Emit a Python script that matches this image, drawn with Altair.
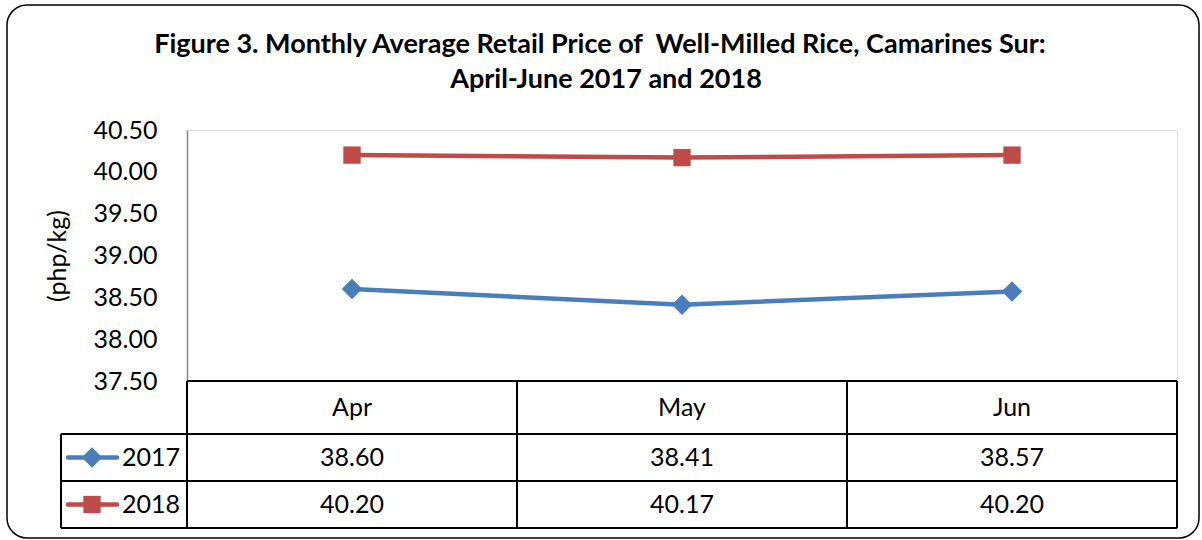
import altair as alt
import pandas as pd

months = ["Apr", "May", "Jun"]
years = ["2017", "2018"]
price_2017 = [38.60, 38.41, 38.57]
price_2018 = [40.20, 40.17, 40.20]
y_ticks = [37.5, 38.0, 38.5, 39.0, 39.5, 40.0, 40.5]
title_lines = ["Figure 3. Monthly Average Retail Price of\u00a0 Well-Milled Rice, Camarines Sur:",
               "April-June 2017 and 2018"]
y_title = "(php/kg)"

BLUE = "#4A7EBB"
RED = "#BE4B48"
FONT = "Lato"
FS = 25

rows = []
for y, vals in zip(years, [price_2017, price_2018]):
    for m, v in zip(months, vals):
        rows.append({"month": m, "year": y, "price": v, "label": f"{v:.2f}"})
df = pd.DataFrame(rows)
mdf = pd.DataFrame({"month": months})
one = pd.DataFrame({"k": [0]})
legend_df = pd.DataFrame({"year": years})

xenc = alt.X("month:N", scale=alt.Scale(type="point", domain=months, padding=0.5), axis=None)
yenc = alt.Y("price:Q",
             scale=alt.Scale(domain=[37.5, 40.5], range=[251, 0], nice=False, zero=False),
             axis=alt.Axis(values=y_ticks, format=".2f", grid=False, ticks=False, tickSize=0,
                           labelPadding=30, labelFont=FONT, labelFontSize=FS, labelColor="black",
                           domainColor="#868686", domainWidth=1.5,
                           title=y_title, titleFont=FONT, titleFontSize=FS, titleFontWeight="normal",
                           titleColor="black", titleAngle=270, titleX=-130, titleY=125.5,
                           titleAlign="center", titleBaseline="middle"))
color = alt.Color("year:N", scale=alt.Scale(domain=years, range=[BLUE, RED]), legend=None)
shape = alt.Shape("year:N", scale=alt.Scale(domain=years, range=["diamond", "square"]), legend=None)
size = alt.Size("year:N", scale=alt.Scale(domain=years, range=[420, 300]), legend=None)

base = alt.Chart(df)
lines = base.mark_line(strokeWidth=4.5).encode(x=xenc, y=yenc, color=color)
points = base.mark_point(filled=True, opacity=1).encode(x=xenc, y=yenc, color=color, shape=shape, size=size)

header = alt.Chart(mdf).mark_text(font=FONT, fontSize=FS, color="black", baseline="middle").encode(
    x=alt.X("month:N", scale=alt.Scale(type="point", domain=months, padding=0.5), axis=None),
    y=alt.value(277.5), text="month:N")
row17 = base.mark_text(font=FONT, fontSize=FS, color="black", baseline="middle").encode(
    x=xenc, y=alt.value(327.5), text="label:N").transform_filter(alt.datum.year == "2017")
row18 = base.mark_text(font=FONT, fontSize=FS, color="black", baseline="middle").encode(
    x=xenc, y=alt.value(374.5), text="label:N").transform_filter(alt.datum.year == "2018")

def hline(y, x1, x2):
    return alt.Chart(one).mark_rule(color="black", strokeWidth=2).encode(
        y=alt.value(y), x=alt.value(x1), x2=alt.value(x2))

def vline(x, y1, y2):
    return alt.Chart(one).mark_rule(color="black", strokeWidth=2).encode(
        x=alt.value(x), y=alt.value(y1), y2=alt.value(y2))

grid = [hline(251, 0, 990), hline(304, -126, 990), hline(351, -126, 990), hline(398, -126, 990),
        vline(-126, 304, 398), vline(0, 251, 398), vline(330, 251, 398), vline(660, 251, 398),
        vline(990, 251, 398)]

leg_line17 = alt.Chart(legend_df).mark_rule(strokeWidth=4.5, strokeCap="round").encode(
    x=alt.value(-119), x2=alt.value(-70), y=alt.value(327.5), color=color).transform_filter(alt.datum.year == "2017")
leg_line18 = alt.Chart(legend_df).mark_rule(strokeWidth=4.5, strokeCap="round").encode(
    x=alt.value(-119), x2=alt.value(-70), y=alt.value(374.5), color=color).transform_filter(alt.datum.year == "2018")
leg_pt17 = alt.Chart(legend_df).mark_point(filled=True, opacity=1).encode(
    x=alt.value(-95), y=alt.value(327.5), color=color, shape=shape, size=size).transform_filter(alt.datum.year == "2017")
leg_pt18 = alt.Chart(legend_df).mark_point(filled=True, opacity=1).encode(
    x=alt.value(-95), y=alt.value(374.5), color=color, shape=shape, size=size).transform_filter(alt.datum.year == "2018")
leg_tx17 = alt.Chart(legend_df).mark_text(font=FONT, fontSize=FS, color="black", align="left", baseline="middle").encode(
    x=alt.value(-65), y=alt.value(327.5), text="year:N").transform_filter(alt.datum.year == "2017")
leg_tx18 = alt.Chart(legend_df).mark_text(font=FONT, fontSize=FS, color="black", align="left", baseline="middle").encode(
    x=alt.value(-65), y=alt.value(374.5), text="year:N").transform_filter(alt.datum.year == "2018")

border = alt.Chart(one).mark_rect(fill=None, stroke="black", strokeWidth=1.5, cornerRadius=20).encode(
    x=alt.value(-180), x2=alt.value(1012), y=alt.value(-125), y2=alt.value(408))

title_df = pd.DataFrame({"line": title_lines, "i": [0, 1]})
title1 = alt.Chart(title_df).mark_text(font=FONT, fontSize=27, fontWeight="bold", color="black",
                                       baseline="middle", align="center").encode(
    x=alt.value(413), y=alt.value(-85), text="line:N").transform_filter(alt.datum.i == 0)
title2 = alt.Chart(title_df).mark_text(font=FONT, fontSize=27, fontWeight="bold", color="black",
                                       baseline="middle", align="center").encode(
    x=alt.value(419), y=alt.value(-50), text="line:N").transform_filter(alt.datum.i == 1)

chart = alt.layer(
    border, title1, title2, *grid, header, row17, row18,
    leg_line17, leg_line18, leg_pt17, leg_pt18, leg_tx17, leg_tx18,
    lines, points,
).properties(
    width=990, height=398,
    autosize=alt.AutoSizeParams(type="none"),
    padding={"left": 187, "top": 130, "right": 25, "bottom": 12},
).configure_view(stroke=None).configure(background="white")

chart.save("out.html", embed_options={"renderer": "svg", "actions": False})
